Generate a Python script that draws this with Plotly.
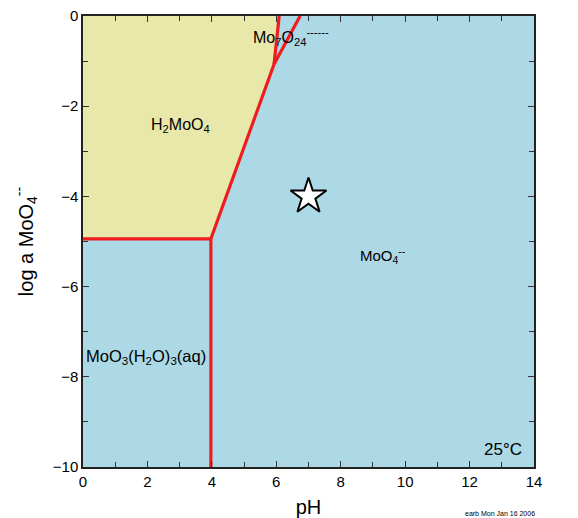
import plotly.graph_objects as go

# Stability-field boundaries (pH, log a MoO4--)
h2moo4_lower_x = [0.0, 3.97]
h2moo4_lower_y = [-4.94, -4.94]
moo3_right_x = [3.97, 3.97]
moo3_right_y = [-4.94, -10.0]
h2moo4_moo4_x = [3.97, 5.93]
h2moo4_moo4_y = [-4.94, -1.07]
h2moo4_mo7_x = [5.93, 6.09]
h2moo4_mo7_y = [-1.07, 0.0]
mo7_moo4_x = [5.93, 6.74]
mo7_moo4_y = [-1.07, 0.0]

# H2MoO4 field polygon
field_x = [0.0, 3.97, 5.93, 6.09, 0.0, 0.0]
field_y = [-4.94, -4.94, -1.07, 0.0, 0.0, -4.94]

# Point of interest
star_x = [7.0]
star_y = [-4.0]

RED = "#ee1c1c"
FONT = "Liberation Sans, Arial, sans-serif"

fig = go.Figure()

fig.add_trace(go.Scatter(x=field_x, y=field_y, fill="toself", mode="none",
                         fillcolor="rgb(232,232,170)", hoverinfo="skip"))

for xs, ys in [(h2moo4_lower_x, h2moo4_lower_y), (moo3_right_x, moo3_right_y),
               (h2moo4_moo4_x, h2moo4_moo4_y), (h2moo4_mo7_x, h2moo4_mo7_y),
               (mo7_moo4_x, mo7_moo4_y)]:
    fig.add_trace(go.Scatter(x=xs, y=ys, mode="lines",
                             line=dict(color=RED, width=3.2), hoverinfo="skip"))

fig.add_trace(go.Scatter(x=star_x, y=star_y, mode="markers",
                         marker=dict(symbol="star", size=27, color="white",
                                     line=dict(color="black", width=2))))

def label(x, y, text, size=16, xanchor="center", yanchor="middle"):
    fig.add_annotation(x=x, y=y, text=text, showarrow=False,
                       font=dict(family=FONT, size=size, color="black"),
                       xanchor=xanchor, yanchor=yanchor)

label(3.04, -2.42, "H<sub>2</sub>MoO<sub>4</sub>")
label(0.04, -7.56, "MoO<sub>3</sub>(H<sub>2</sub>O)<sub>3</sub>(aq)", size=16.5, xanchor="left")
label(9.3, -5.3, "MoO<sub>4</sub><sup>--</sup>", size=15)
label(5.2, -0.47, "Mo<sub>7</sub>O<sub>24</sub><sup>------</sup>", xanchor="left")
label(13.68, -9.62, "25°C", size=17, xanchor="right")

fig.add_annotation(xref="paper", yref="paper", x=1.0067, y=-0.102,
                   text="earb Mon Jan 16 2006", showarrow=False,
                   font=dict(family=FONT, size=7, color="black"),
                   xanchor="right", yanchor="middle")

axis_common = dict(
    showgrid=False, zeroline=False, ticks="inside", ticklen=6,
    tickcolor="#333", tickwidth=1, showline=True, linecolor="#222",
    linewidth=1.5, mirror="ticks", automargin=False,
    tickfont=dict(family=FONT, size=15, color="black"),
    minor=dict(dtick=1, ticks="inside", ticklen=5, tickcolor="#333"),
)

fig.update_xaxes(range=[0, 14], dtick=2, tick0=0,
                 title=dict(text="pH", font=dict(family=FONT, size=20, color="black"),
                            standoff=13),
                 **axis_common)
fig.update_yaxes(range=[-10, 0], dtick=2, tick0=0,
                 title=dict(text="log a MoO<sub>4</sub><sup>--</sup>",
                            font=dict(family=FONT, size=20, color="black"),
                            standoff=14),
                 **axis_common)

fig.update_layout(
    width=578, height=518,
    margin=dict(l=83, r=44, t=16, b=51),
    paper_bgcolor="white", plot_bgcolor="rgb(173,216,230)",
    showlegend=False,
)

fig.write_html("out.html")
